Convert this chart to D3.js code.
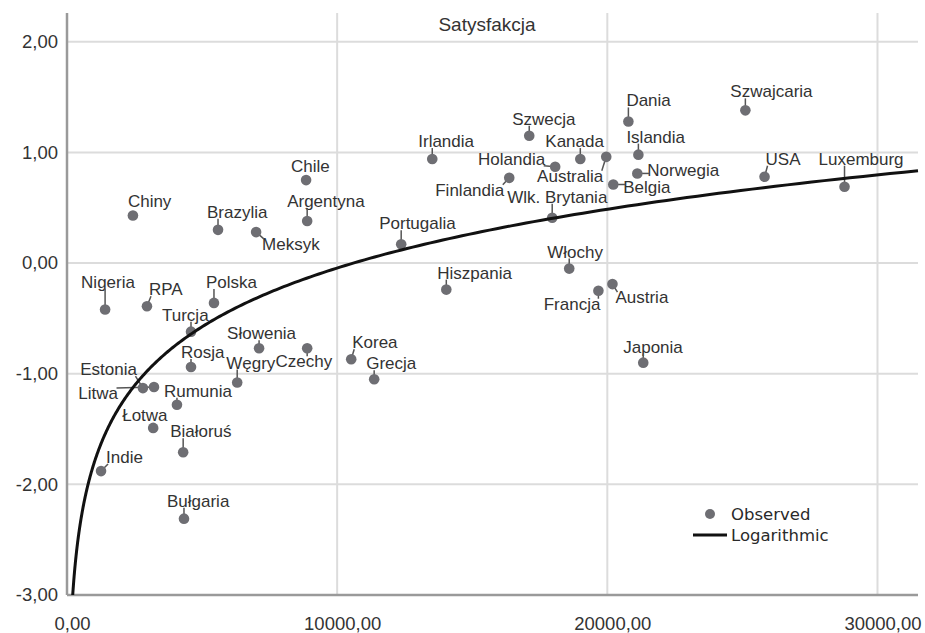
<!DOCTYPE html>
<html>
<head>
<meta charset="utf-8">
<script src="https://cdn.jsdelivr.net/npm/d3@7.9.0/dist/d3.min.js"></script>
<style>
  body { margin: 0; background: #fff; }
  svg text { font-family: "Liberation Sans", Arial, sans-serif; fill: #333; }
  .legend text { font-family: "DejaVu Sans", sans-serif; fill: #2a2a2a; }
</style>
</head>
<body>
<svg id="chart" width="925" height="633"></svg>
<script>
// Data
const countries = ['Chiny', 'Brazylia', 'Meksyk', 'Argentyna', 'Chile', 'Nigeria', 'RPA', 'Polska',
  'Turcja', 'Słowenia', 'Czechy', 'Rosja', 'Węgry', 'Estonia', 'Litwa', 'Rumunia', 'Łotwa',
  'Białoruś', 'Indie', 'Bułgaria', 'Portugalia', 'Hiszpania', 'Korea', 'Grecja', 'Włochy',
  'Francja', 'Austria', 'Japonia', 'Wlk. Brytania', 'Irlandia', 'Szwecja', 'Holandia',
  'Finlandia', 'Kanada', 'Australia', 'Belgia', 'Dania', 'Islandia', 'Norwegia',
  'Szwajcaria', 'USA', 'Luxemburg'];
const income = [2440, 5590, 7000, 8890, 8850, 1410, 2960, 5440,
  4590, 7110, 8890, 4590, 6300, 2810, 3220, 4070, 3190,
  4300, 1260, 4330, 12370, 14040, 10520, 11370, 18590,
  19670, 20190, 21330, 17960, 13520, 17110, 18070,
  16370, 19000, 19960, 20220, 20780, 21150, 21110,
  25110, 25820, 28780];
const satisfaction = [0.43, 0.30, 0.28, 0.38, 0.75, -0.42, -0.39, -0.36,
  -0.62, -0.77, -0.77, -0.94, -1.08, -1.13, -1.12, -1.28, -1.49,
  -1.71, -1.88, -2.31, 0.17, -0.24, -0.87, -1.05, -0.05,
  -0.25, -0.19, -0.90, 0.41, 0.94, 1.15, 0.87,
  0.77, 0.94, 0.96, 0.71, 1.28, 0.98, 0.81,
  1.38, 0.78, 0.69];
const xTicks = [0, 10000, 20000, 30000];
const yTicks = [-3, -2, -1, 0, 1, 2];

// label placement relative to the dot: [dx, dy, anchor]
const labelPos = {
  'Chiny': [-5, -8, 'start'], 'Brazylia': [-11, -12, 'start'], 'Meksyk': [6, 18, 'start'],
  'Argentyna': [-20, -14, 'start'], 'Chile': [-15, -8, 'start'], 'Nigeria': [-24, -22, 'start'],
  'RPA': [2, -11, 'start'], 'Polska': [-8, -15, 'start'], 'Turcja': [-29, -11, 'start'],
  'Słowenia': [-32, -9, 'start'], 'Czechy': [25, 19, 'end'], 'Rosja': [-10, -9, 'start'],
  'Węgry': [-11, -14, 'start'], 'Estonia': [-6, -13, 'end'], 'Litwa': [-36, 12, 'end'],
  'Rumunia': [-13, -8, 'start'], 'Łotwa': [-31, -7, 'start'], 'Białoruś': [-13, -15, 'start'],
  'Indie': [5, -8, 'start'], 'Bułgaria': [-17, -12, 'start'], 'Portugalia': [-22, -15, 'start'],
  'Hiszpania': [-9, -11, 'start'], 'Korea': [1, -11, 'start'], 'Grecja': [-8, -10, 'start'],
  'Włochy': [-22, -11, 'start'], 'Francja': [2, 19, 'end'], 'Austria': [3, 19, 'start'],
  'Japonia': [-20, -10, 'start'], 'Wlk. Brytania': [-45, -15, 'start'], 'Irlandia': [-14, -12, 'start'],
  'Szwecja': [-17, -11, 'start'], 'Holandia': [-10, -2, 'end'], 'Finlandia': [-5, 18, 'end'],
  'Kanada': [-35, -12, 'start'], 'Australia': [-3, 25, 'end'], 'Belgia': [10, 8, 'start'],
  'Dania': [-2, -15, 'start'], 'Islandia': [-12, -12, 'start'], 'Norwegia': [10, 3, 'start'],
  'Szwajcaria': [-15, -13, 'start'], 'USA': [1, -12, 'start'], 'Luxemburg': [-26, -22, 'start']
};

const data = countries.map((c, i) => ({ name: c, x: income[i], y: satisfaction[i] }));

const svg = d3.select('#chart');
const plotLeft = 67, plotRight = 918, plotTop = 13, plotBottom = 595;

const x = d3.scaleLinear().domain([0, 31500]).range([plotLeft, plotRight]);
const y = d3.scaleLinear().domain([-3, 2.26]).range([plotBottom, plotTop]);

const pl = d3.formatLocale({ decimal: ',', thousands: '', grouping: [3], currency: ['', ''], minus: '-' });
const fmt = pl.format('.2f');

// gridlines
svg.append('g')
  .selectAll('line')
  .data(yTicks.filter(d => d > -3))
  .join('line')
  .attr('x1', plotLeft).attr('x2', plotRight)
  .attr('y1', d => y(d)).attr('y2', d => y(d))
  .attr('stroke', '#dcdcdc').attr('stroke-width', 2);

svg.append('g')
  .selectAll('line')
  .data(xTicks.filter(d => d > 0))
  .join('line')
  .attr('x1', d => x(d)).attr('x2', d => x(d))
  .attr('y1', plotTop).attr('y2', plotBottom)
  .attr('stroke', '#dcdcdc').attr('stroke-width', 2);

// axes
const yAxis = svg.append('g')
  .attr('transform', `translate(${plotLeft},0)`)
  .call(d3.axisLeft(y).tickValues(yTicks).tickFormat(fmt).tickSize(0).tickPadding(9));
yAxis.select('.domain').attr('stroke', '#9a9a9a').attr('stroke-width', 2.5)
  .attr('d', `M0,${plotTop}V${plotBottom}`);
yAxis.selectAll('text').style('font-size', '18.5px').style('font-family', '"Liberation Sans", Arial, sans-serif').attr('fill', '#333');

const xAxis = svg.append('g')
  .attr('transform', `translate(0,${plotBottom})`)
  .call(d3.axisBottom(x).tickValues(xTicks).tickFormat(fmt).tickSize(0).tickPadding(22));
xAxis.select('.domain').attr('stroke', '#9a9a9a').attr('stroke-width', 2.5)
  .attr('d', `M${plotLeft},0H${plotRight}`);
xAxis.selectAll('text').style('font-size', '18.5px').style('font-family', '"Liberation Sans", Arial, sans-serif')
  .attr('fill', '#333').attr('dx', 5);

// title
svg.append('text')
  .attr('x', 487).attr('y', 31)
  .attr('text-anchor', 'middle')
  .style('font-size', '19px')
  .text('Satysfakcja');

// logarithmic fit y = a + b ln(x), least squares over the observed points
const lx = data.map(d => Math.log(d.x));
const mx = d3.mean(lx), my = d3.mean(data, d => d.y);
const b = d3.sum(data, (d, i) => (lx[i] - mx) * (d.y - my)) / d3.sum(lx, v => (v - mx) ** 2);
const a = my - b * mx;
const xStart = Math.exp((-3 - a) / b);
const curve = d3.range(0, 301).map(i => {
  const v = xStart * Math.pow(31500 / xStart, i / 300);
  return [v, a + b * Math.log(v)];
});

// points and labels
const labels = svg.append('g');
const leaders = svg.append('g');
const dots = svg.append('g');

dots.selectAll('circle')
  .data(data)
  .join('circle')
  .attr('cx', d => x(d.x)).attr('cy', d => y(d.y))
  .attr('r', 5.3)
  .attr('fill', '#6e6e73');

labels.selectAll('text')
  .data(data)
  .join('text')
  .attr('x', d => x(d.x) + labelPos[d.name][0])
  .attr('y', d => y(d.y) + labelPos[d.name][1])
  .attr('text-anchor', d => labelPos[d.name][2])
  .style('font-size', '17px')
  .text(d => d.name);

// leader lines from the dot to the nearest point of its label
labels.selectAll('text').each(function(d) {
  const bb = this.getBBox();
  const cx = x(d.x), cy = y(d.y);
  const px = Math.max(bb.x + 2, Math.min(cx, bb.x + bb.width - 2));
  const py = Math.max(bb.y + 4, Math.min(cy, bb.y + bb.height - 3));
  const dist = Math.hypot(px - cx, py - cy);
  if (dist > 7) {
    leaders.append('line')
      .attr('x1', cx).attr('y1', cy)
      .attr('x2', px).attr('y2', py)
      .attr('stroke', '#555').attr('stroke-width', 1.5);
  }
});

svg.append('path')
  .datum(curve)
  .attr('fill', 'none')
  .attr('stroke', '#111')
  .attr('stroke-width', 3)
  .attr('d', d3.line().x(d => x(d[0])).y(d => y(d[1])));

// legend
const legend = svg.append('g').attr('class', 'legend');
legend.append('circle').attr('cx', 710).attr('cy', 514).attr('r', 5).attr('fill', '#6e6e73');
legend.append('text').attr('x', 731).attr('y', 520).style('font-size', '16.5px').text('Observed');
legend.append('line').attr('x1', 693).attr('x2', 727).attr('y1', 535).attr('y2', 535)
  .attr('stroke', '#111').attr('stroke-width', 3);
legend.append('text').attr('x', 731).attr('y', 541).style('font-size', '16.5px').text('Logarithmic');
</script>
</body>
</html>
